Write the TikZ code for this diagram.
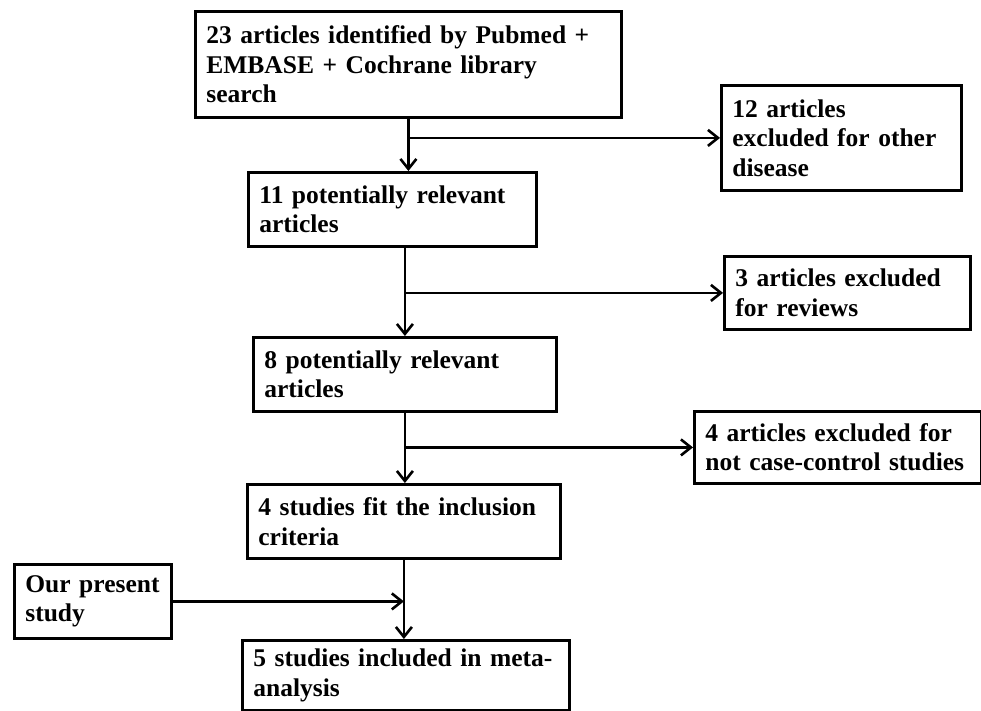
\documentclass[tikz,border=0pt]{standalone}
\usepackage{fontspec}
\setmainfont{Liberation Serif}
\usetikzlibrary{arrows.meta}
\tikzset{
  flowbox/.style={draw=black, line width=2.8pt, anchor=north west, inner xsep=11pt, inner ysep=0pt,
    align=left, font=\fontsize{25.5}{29.5}\selectfont\bfseries},
  arr/.style={draw=black, line width=2.6pt, -{Straight Barb[length=10pt,width=16pt,line width=2.6pt]}},
}
\begin{document}
\begin{tikzpicture}[x=1pt,y=-1pt]
\useasboundingbox (0,0) rectangle (981,710);
% boxes: left, top, width, height
\node[flowbox, minimum width=426pt, minimum height=106pt, text width=404pt] (b1) at (194,10)
  {23 articles identified by Pubmed +\\EMBASE + Cochrane library\\search};
\node[flowbox, minimum width=240pt, minimum height=105pt, text width=218pt] (r1) at (720,84)
  {12 articles\\excluded for other\\disease};
\node[flowbox, minimum width=288pt, minimum height=74pt, text width=266pt] (b2) at (247,171)
  {11 potentially relevant\\articles};
\node[flowbox, minimum width=246pt, minimum height=73pt, text width=224pt] (r2) at (723,255)
  {3 articles excluded\\for reviews};
\node[flowbox, minimum width=303pt, minimum height=74pt, text width=281pt] (b3) at (252,336)
  {8 potentially relevant\\articles};
\node[flowbox, minimum width=287pt, minimum height=72pt, text width=265pt] (r3) at (693,410)
  {4 articles excluded for\\not case-control studies};
\node[flowbox, minimum width=313pt, minimum height=74pt, text width=291pt] (b4) at (246,483)
  {4 studies fit the inclusion\\criteria};
\node[flowbox, minimum width=157pt, minimum height=74pt, text width=135pt] (op) at (13,563)
  {Our present\\study};
\node[flowbox, minimum width=327pt, minimum height=70pt, text width=305pt] (b5) at (241,639)
  {5 studies included in meta-\\analysis};
% connectors
\draw[arr] (b1.south) -- (b1.south |- b2.north);
\draw[arr] (b1.south |- r1.west) -- (r1.west);
\draw[arr] (b2.south -| b3.north) -- (b3.north);
\draw[arr] (b3.north |- r2.west) -- (r2.west);
\draw[arr] (b3.south) -- (b3.south |- b4.north);
\draw[arr] (b3.south |- r3.west) -- (r3.west);
\draw[arr] (b4.south) -- (b4.south |- b5.north);
\draw[arr] (op.east) -- (op.east -| b4.south);
\end{tikzpicture}
\end{document}
